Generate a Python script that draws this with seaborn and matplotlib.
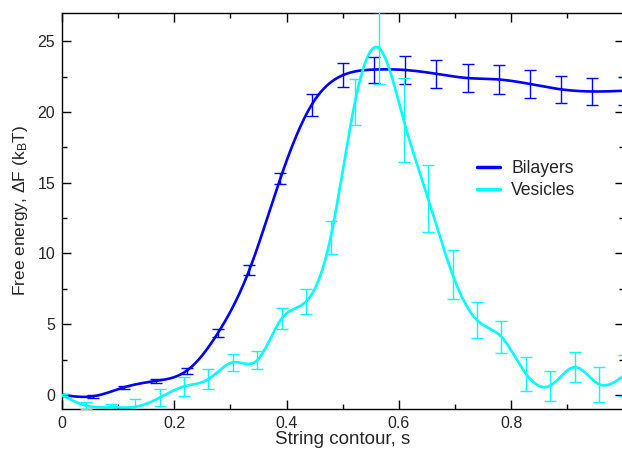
import numpy as np
import pandas as pd
import matplotlib
matplotlib.use("Agg")
import matplotlib.pyplot as plt
import seaborn as sns

# ---- data ----
bil_s = [k / 18 for k in range(19)]
bil_F = [0.0, -0.1, 0.54, 0.98, 1.71, 4.38, 8.8, 15.3, 20.5, 22.6, 23.0,
         22.97, 22.7, 22.4, 22.3, 21.98, 21.6, 21.45, 21.5]
bil_err = [0.05, 0.1, 0.12, 0.14, 0.22, 0.27, 0.35, 0.38, 0.8, 0.86, 0.92,
           0.97, 0.97, 1.0, 1.0, 1.0, 0.96, 0.96, 1.0]

ves_s = [k / 23 for k in range(24)]
ves_F = [0.0, -0.77, -0.87, -0.85, -0.2, 0.6, 1.11, 2.3, 2.45, 5.4, 6.6,
         11.1, 20.7, 24.5, 19.4, 13.85, 8.5, 5.28, 4.1, 1.5, 0.65, 1.96,
         0.75, 1.35]
ves_err = [0.05, 0.23, 0.24, 0.55, 0.58, 0.66, 0.7, 0.6, 0.62, 0.77, 0.85,
           1.16, 1.6, 2.55, 2.97, 2.37, 1.75, 1.29, 1.12, 1.2, 1.05, 1.07,
           1.22, 1.45]

series_names = ["Bilayers", "Vesicles"]
colors = {"Bilayers": "#0000ff", "Vesicles": "#00ffff"}


def natural_spline(x, y, xs):
    x = np.asarray(x, float); y = np.asarray(y, float)
    n = len(x); h = np.diff(x)
    A = np.zeros((n, n)); r = np.zeros(n)
    A[0, 0] = 1; A[-1, -1] = 1
    for i in range(1, n - 1):
        A[i, i - 1] = h[i - 1]; A[i, i] = 2 * (h[i - 1] + h[i]); A[i, i + 1] = h[i]
        r[i] = 3 * ((y[i + 1] - y[i]) / h[i] - (y[i] - y[i - 1]) / h[i - 1])
    c = np.linalg.solve(A, r)
    b = (y[1:] - y[:-1]) / h - h * (2 * c[:-1] + c[1:]) / 3
    d = (c[1:] - c[:-1]) / (3 * h)
    idx = np.clip(np.searchsorted(x, xs) - 1, 0, n - 2)
    t = xs - x[idx]
    return y[idx] + b[idx] * t + c[idx] * t ** 2 + d[idx] * t ** 3


sns.set_style("ticks")
plt.rcParams["font.family"] = ["Liberation Sans", "DejaVu Sans"]
plt.rcParams["mathtext.fontset"] = "custom"
plt.rcParams["mathtext.rm"] = "Liberation Sans"
plt.rcParams["mathtext.it"] = "Liberation Sans:italic"
plt.rcParams["mathtext.default"] = "regular"

fig = plt.figure(figsize=(6.22, 4.49), dpi=100)
ax = fig.add_axes([62 / 622, 1 - 409 / 449, 561.5 / 622, 396 / 449])

frames = []
for name, s, F in [("Bilayers", bil_s, bil_F), ("Vesicles", ves_s, ves_F)]:
    xs = np.linspace(0, 1, 600)
    frames.append(pd.DataFrame({"s": xs, "F": natural_spline(s, F, xs), "series": name}))
curves = pd.concat(frames, ignore_index=True)

sns.lineplot(data=curves, x="s", y="F", hue="series", hue_order=series_names,
             palette=colors, linewidth=1.9, ax=ax, legend=True)

for name, s, F, e in [("Bilayers", bil_s, bil_F, bil_err), ("Vesicles", ves_s, ves_F, ves_err)]:
    ax.errorbar(s, F, yerr=e, fmt="none", ecolor=colors[name], elinewidth=1.0,
                capsize=4.3, capthick=1.0, zorder=3)

ax.set_xlim(0, 1)
ax.set_ylim(-1, 27)
ax.set_xticks([0, 0.2, 0.4, 0.6, 0.8])
ax.set_xticklabels(["0", "0.2", "0.4", "0.6", "0.8"])
ax.set_xticks(np.arange(0.1, 1.0, 0.2), minor=True)
ax.set_yticks([0, 5, 10, 15, 20, 25])
ax.set_yticks(np.arange(2.5, 27, 5), minor=True)
ax.tick_params(which="both", direction="in", top=True, right=True,
               width=1.0, color="black", labelsize=11.5)
ax.tick_params(which="major", length=6.8, pad=5)
ax.tick_params(which="minor", length=3.6)
for sp in ax.spines.values():
    sp.set_linewidth(1.0)
    sp.set_color("black")

ax.set_xlabel("String contour, s", fontsize=13.5, labelpad=0)
ax.set_ylabel("Free energy, ΔF (k$_{B}$T)", fontsize=12.5, labelpad=5)

leg = ax.legend(loc="upper left", bbox_to_anchor=((477 - 62) / 561.5, (409 - 160) / 396),
                frameon=False, borderpad=0, borderaxespad=0, handlelength=1.3,
                handletextpad=0.65, labelspacing=0.3, fontsize=12.7)
for line in leg.get_lines():
    line.set_linewidth(2.5)

fig.savefig("out.png", dpi=100)
